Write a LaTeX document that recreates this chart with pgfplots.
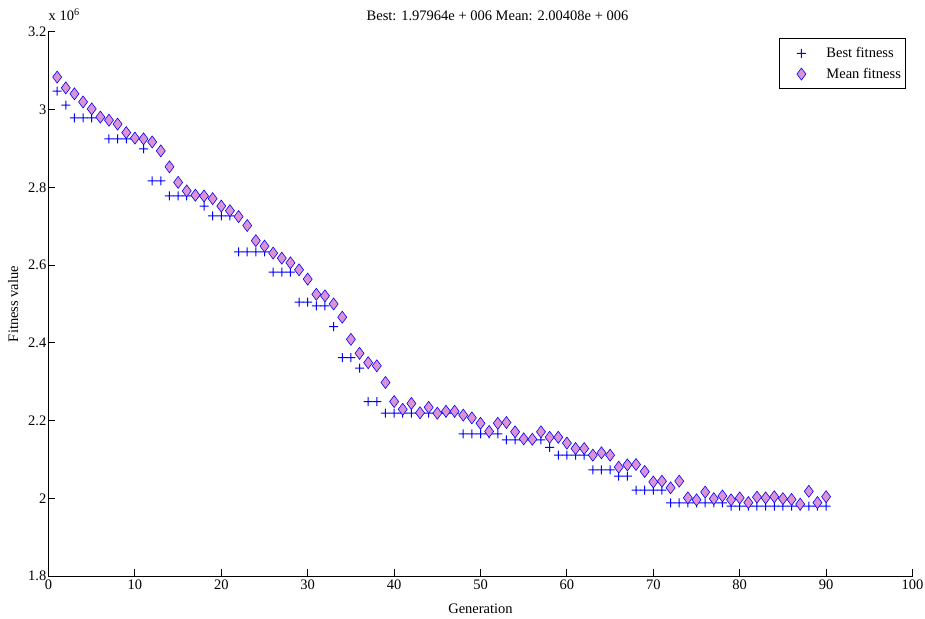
\documentclass[border=0pt]{standalone}
\usepackage{fontspec}
\setmainfont{Liberation Serif}
\usepackage{pgfplots}
\pgfplotsset{compat=1.18}
\usepackage{pgfplotstable}
\definecolor{meanfill}{RGB}{222,146,214}
\definecolor{markblue}{RGB}{0,0,255}

% plus mark built from two filled bars, with its own colour
\pgfdeclareplotmark{fplus}{%
  \pgfsetfillcolor{markblue}%
  \pgfpathrectangle{\pgfqpoint{-\pgfplotmarksize}{-0.5pt}}{\pgfqpoint{2\pgfplotmarksize}{1pt}}%
  \pgfpathrectangle{\pgfqpoint{-0.5pt}{-\pgfplotmarksize}}{\pgfqpoint{1pt}{2\pgfplotmarksize}}%
  \pgfusepathqfill}

\pgfplotsset{marklegend/.style={legend image code/.code={%
  \path[draw=none, fill=none] (0pt,-6pt) rectangle (42pt,6pt);
  \draw[##1, #1] plot coordinates {(19pt,0pt)};}}}

% fitness values in units of 10^6
\pgfplotstableread{
gen best mean
1 3.048 3.084
2 3.012 3.056
3 2.979 3.041
4 2.979 3.020
5 2.979 3.002
6 2.979 2.981
7 2.925 2.973
8 2.925 2.963
9 2.925 2.941
10 2.925 2.927
11 2.899 2.925
12 2.817 2.917
13 2.817 2.894
14 2.778 2.853
15 2.778 2.813
16 2.778 2.791
17 2.778 2.780
18 2.752 2.778
19 2.727 2.771
20 2.727 2.752
21 2.727 2.740
22 2.634 2.725
23 2.634 2.702
24 2.634 2.663
25 2.634 2.649
26 2.582 2.631
27 2.582 2.618
28 2.582 2.606
29 2.505 2.588
30 2.505 2.564
31 2.495 2.525
32 2.495 2.521
33 2.442 2.500
34 2.362 2.466
35 2.362 2.409
36 2.335 2.373
37 2.249 2.349
38 2.249 2.341
39 2.219 2.298
40 2.219 2.249
41 2.219 2.229
42 2.219 2.244
43 2.219 2.220
44 2.219 2.234
45 2.219 2.219
46 2.219 2.224
47 2.219 2.224
48 2.166 2.214
49 2.166 2.207
50 2.166 2.193
51 2.166 2.172
52 2.166 2.193
53 2.150 2.195
54 2.150 2.171
55 2.150 2.153
56 2.150 2.152
57 2.150 2.171
58 2.131 2.157
59 2.111 2.157
60 2.111 2.142
61 2.111 2.128
62 2.111 2.128
63 2.073 2.111
64 2.073 2.117
65 2.073 2.111
66 2.057 2.080
67 2.057 2.086
68 2.021 2.087
69 2.021 2.069
70 2.021 2.042
71 2.021 2.044
72 1.988 2.027
73 1.988 2.044
74 1.988 2.001
75 1.988 1.996
76 1.988 2.016
77 1.988 1.999
78 1.988 2.006
79 1.9796 1.996
80 1.9796 2.001
81 1.9796 1.989
82 1.9796 2.003
83 1.9796 2.001
84 1.9796 2.004
85 1.9796 1.999
86 1.9796 1.997
87 1.9796 1.985
88 1.9796 2.018
89 1.9796 1.989
90 1.97964 2.00408
}\fitdata

\begin{document}
\begin{tikzpicture}
\useasboundingbox (-48.5pt,-42pt) rectangle (876.5pt,576pt);
\begin{axis}[
    scale only axis,
    width=864pt, height=544pt,
    xmin=0, xmax=100,
    ymin=1.8, ymax=3.2,
    xtick={0,10,20,30,40,50,60,70,80,90,100},
    ytick={1.8,2,2.2,2.4,2.6,2.8,3,3.2},
    yticklabels={1.8,2,2.2,2.4,2.6,2.8,3,3.2},
    axis lines=left,
    axis line style={-, line width=1pt},
    tick align=inside,
    major tick length=7pt,
    tick style={line width=1pt, black},
    /pgf/number format/assume math mode=true,
    tick label style={font=\fontsize{14.5}{17}\selectfont},
    yticklabel style={inner xsep=2pt},
    xlabel={Generation},
    ylabel={Fitness value},
    label style={font=\fontsize{14.5}{17}\selectfont},
    xlabel style={at={(axis description cs:0.5,-0.061)}, anchor=center},
    ylabel style={at={(axis description cs:-0.041,0.5)}, anchor=center},
    legend style={at={(rel axis cs:0.993,0.989)}, anchor=north east,
      draw=black, line width=1pt, font=\fontsize{14.5}{17}\selectfont,
      inner xsep=3pt, inner ysep=7pt, row sep=5pt},
    legend cell align=left,
    clip=false,
]
\addplot[only marks, mark=fplus, mark size=4.5pt, color=markblue,
  mark options={fill=markblue, draw=none},
  marklegend={color=markblue, mark options={fill=markblue, draw=none}}]
  table[x=gen, y=best] {\fitdata};
\addplot[only marks, mark=diamond*, mark size=6pt, color=markblue, line width=0.6pt,
  mark options={draw=markblue, fill=meanfill, solid},
  marklegend={mark options={draw=markblue, fill=meanfill, solid}}]
  table[x=gen, y=mean] {\fitdata};
\legend{Best fitness, Mean fitness}
\node[anchor=base west, inner sep=0pt, font=\fontsize{14.5}{17}\selectfont]
  at (rel axis cs:0,1) [yshift=11pt] {x 10\textsuperscript{6}};
\node[anchor=base, inner sep=0pt, font=\fontsize{14.5}{17}\selectfont]
  at (rel axis cs:0.5,1) [xshift=17pt, yshift=11pt] {Best: 1.97964e + 006 Mean: 2.00408e + 006};
\end{axis}
\end{tikzpicture}
\end{document}
